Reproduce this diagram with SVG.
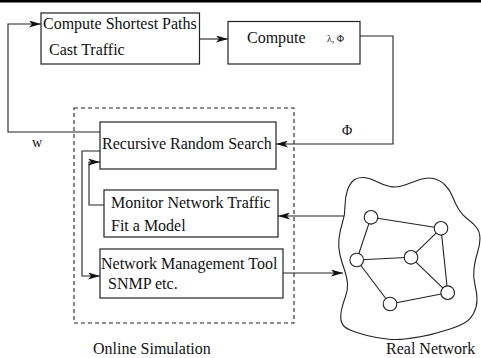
<svg xmlns="http://www.w3.org/2000/svg" width="481" height="358" viewBox="0 0 481 358">
<style>
.box{fill:none;stroke:#222;stroke-width:1.2}
.ln{fill:none;stroke:#222;stroke-width:1.1}
.t{font-family:"Liberation Serif","Times New Roman",serif;font-size:16px;fill:#111}
.nd{fill:#fff;stroke:#222;stroke-width:1.1}
</style>
<defs>
<marker id="ah" viewBox="0 0 12 7" refX="12" refY="3.5" markerWidth="12" markerHeight="7" markerUnits="userSpaceOnUse" orient="auto">
<path d="M0,0 L12,3.5 L0,7 L3,3.5 Z" fill="#111"/>
</marker>
</defs>
<rect x="0" y="0" width="481" height="2.5" fill="#000"/>
<g id="connectors">
<path class="ln" d="M199.5,39 H228" marker-end="url(#ah)"/>
<path class="ln" d="M360,36 H393 V144 H276" marker-end="url(#ah)"/>
<path class="ln" d="M100,132 H8 V24 H41" marker-end="url(#ah)"/>
<path class="ln" d="M100,151 H82 V276 H100" marker-end="url(#ah)"/>
<path class="ln" d="M104,205 H89 V162 H100" marker-end="url(#ah)"/>
<path class="ln" d="M344,216 H278" marker-end="url(#ah)"/>
<path class="ln" d="M283,273 H343" marker-end="url(#ah)"/>
</g>
<g id="online-sim">
<rect x="74" y="108" width="220" height="215" fill="none" stroke="#222" stroke-width="1.1" stroke-dasharray="4,3"/>
<text class="t" x="93" y="354">Online Simulation</text>
</g>
<g id="shortest-paths">
<rect class="box" x="41" y="13" width="158.5" height="51"/>
<text class="t" x="43" y="29">Compute Shortest Paths</text>
<text class="t" x="49" y="55">Cast Traffic</text>
</g>
<g id="compute">
<rect class="box" x="228" y="21.5" width="132" height="42.5"/>
<text class="t" x="247" y="43">Compute</text>
<text class="t" x="327" y="42" style="font-size:10px">λ, Φ</text>
</g>
<g id="labels">
<text class="t" x="342" y="135" style="font-size:14px">Φ</text>
<text class="t" x="32" y="147" style="font-size:14px">w</text>
</g>
<g id="rrs">
<rect class="box" x="100" y="122" width="176" height="47"/>
<text class="t" x="102" y="149">Recursive Random Search</text>
</g>
<g id="monitor">
<rect class="box" x="104" y="190" width="174" height="47"/>
<text class="t" x="111" y="208">Monitor Network Traffic</text>
<text class="t" x="111" y="231">Fit a Model</text>
</g>
<g id="nmt">
<rect class="box" x="100" y="249" width="183" height="49"/>
<text class="t" x="101" y="269">Network Management Tool</text>
<text class="t" x="108" y="289">SNMP etc.</text>
</g>
<g id="real-network">
<path class="ln" d="M342.5,222.5 Q345,215 345,206 Q345,197 347.5,190 Q350,183 354,180 Q358,177 364,177.5 Q370,178 376.5,181.5 Q383,185 390,186.5 Q397,188 405,185 Q413,182 420,179.5 Q427,177 433.5,178.5 Q440,180 445,185 Q450,190 452.5,196.5 Q455,203 458.5,209 Q462,215 467.5,219 Q473,223 476.5,227.5 Q480,232 480,238.5 Q480,245 477.5,252.5 Q475,260 474,268.5 Q473,277 475,285 Q477,293 477,300 Q477,307 473.5,313.5 Q470,320 463.5,323.5 Q457,327 450,329 Q443,331 436.5,333 Q430,335 421.5,336.5 Q413,338 405,339 Q397,340 387,339 Q377,338 367,335.5 Q357,333 350,330 Q343,327 341.5,322 Q340,317 341.5,310 Q343,303 345.5,296.5 Q348,290 347.5,283.5 Q347,277 344.5,270 Q342,263 340,255 Q338,247 339,238.5 Q340,230 342.5,222.5 Z"/>
<g class="ln">
<line x1="371" y1="217.3" x2="441" y2="228.3"/>
<line x1="371" y1="217.3" x2="356.7" y2="260"/>
<line x1="441" y1="228.3" x2="411" y2="257.3"/>
<line x1="441" y1="228.3" x2="447.7" y2="292.7"/>
<line x1="356.7" y1="260" x2="411" y2="257.3"/>
<line x1="356.7" y1="260" x2="390" y2="304"/>
<line x1="411" y1="257.3" x2="447.7" y2="292.7"/>
<line x1="390" y1="304" x2="447.7" y2="292.7"/>
</g>
<circle class="nd" cx="371" cy="217.3" r="6.8"/>
<circle class="nd" cx="441" cy="228.3" r="6.8"/>
<circle class="nd" cx="356.7" cy="260" r="6.8"/>
<circle class="nd" cx="411" cy="257.3" r="6.8"/>
<circle class="nd" cx="447.7" cy="292.7" r="6.8"/>
<circle class="nd" cx="390" cy="304" r="6.8"/>
<text class="t" x="386" y="354">Real Network</text>
</g>
</svg>
